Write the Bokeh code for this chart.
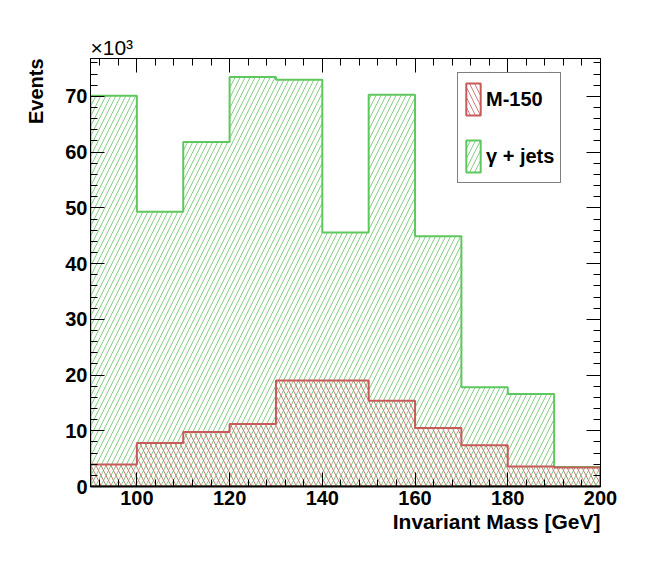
import numpy as np
from bokeh.plotting import figure
from bokeh.models import (Range1d, LinearAxis, SingleIntervalTicker, Legend,
                          LegendItem, CustomJSTickFormatter, Title)
from bokeh.embed import file_html
from bokeh.resources import INLINE

# ---- data (values in units of 10^3 events) ----
bin_edges = [90, 100, 110, 120, 130, 140, 150, 160, 170, 180, 190, 200]
gamma_jets = [70.1, 49.3, 61.8, 73.5, 73.0, 45.6, 70.3, 44.9, 17.8, 16.6, 3.5]
m150 = [3.95, 7.8, 9.8, 11.2, 19.0, 19.0, 15.4, 10.5, 7.4, 3.6, 3.4]
series_labels = ["M-150", "\u03b3 + jets"]

X_MIN, X_MAX = 90, 200
Y_MIN, Y_MAX = 0, 76.8

GREEN_LINE = "#5ec85e"
GREEN_HATCH = "#84cf84"
RED_LINE = "#c85a5a"
RED_HATCH = "#d07c7c"
FONT = "Liberation Sans"

p = figure(width=646, height=572, output_backend="svg", toolbar_location=None,
           x_range=Range1d(X_MIN, X_MAX), y_range=Range1d(Y_MIN, Y_MAX),
           x_axis_location=None, y_axis_location=None,
           min_border_left=90, min_border_right=46, min_border_top=58, min_border_bottom=86)
p.background_fill_color = "white"
p.border_fill_color = "white"
p.outline_line_color = "black"
p.outline_line_width = 1
p.xgrid.visible = False
p.ygrid.visible = False


def outline(values):
    v = np.asarray(values, dtype=float)
    xs = np.repeat(np.array(bin_edges, dtype=float), 2)
    ys = np.concatenate([[0.0], np.repeat(v, 2), [0.0]])
    return xs, ys


gx, gy = outline(gamma_jets)
green = p.patch(gx, gy, fill_alpha=0, line_color=GREEN_LINE, line_width=2,
                hatch_pattern="/", hatch_color=GREEN_HATCH, hatch_scale=10, hatch_weight=1)

rx, ry = outline(m150)
red = p.patch(rx, ry, fill_alpha=0, line_color=RED_LINE, line_width=2,
              hatch_pattern="\\", hatch_color=RED_HATCH, hatch_scale=10, hatch_weight=1)


# axes (ROOT style: ticks inside on all four sides)
def style_axis(ax, labels=True, width=1):
    ax.major_tick_in = 14
    ax.major_tick_out = 0
    ax.minor_tick_in = 7
    ax.minor_tick_out = 0
    ax.axis_line_color = "black"
    ax.axis_line_width = width
    ax.major_tick_line_color = "black"
    ax.minor_tick_line_color = "black"
    ax.major_label_text_font = FONT
    ax.major_label_text_font_style = "bold"
    ax.major_label_text_font_size = "20px"
    ax.major_label_text_color = "black"
    if not labels:
        ax.formatter = CustomJSTickFormatter(code="return ''")


xb = LinearAxis(ticker=SingleIntervalTicker(interval=20, num_minor_ticks=5))
style_axis(xb, width=2)
xb.major_label_standoff = 4
p.add_layout(xb, "below")

xt = LinearAxis(ticker=SingleIntervalTicker(interval=20, num_minor_ticks=5))
style_axis(xt, labels=False)
p.add_layout(xt, "above")

yl = LinearAxis(ticker=SingleIntervalTicker(interval=10, num_minor_ticks=5))
style_axis(yl)
yl.major_label_standoff = 3
p.add_layout(yl, "left")

yr = LinearAxis(ticker=SingleIntervalTicker(interval=10, num_minor_ticks=5))
style_axis(yr, labels=False)
p.add_layout(yr, "right")

# axis titles and exponent
p.add_layout(Title(text="Invariant Mass [GeV]", align="right", text_font=FONT,
                   text_font_style="bold", text_font_size="21px", text_color="black",
                   standoff=0), "below")
p.add_layout(Title(text="Events", align="right", text_font=FONT,
                   text_font_style="bold", text_font_size="20px", text_color="black",
                   standoff=31), "left")
p.add_layout(Title(text="\u00d710\u00b3", align="left", text_font=FONT,
                   text_font_style="normal", text_font_size="21px", text_color="black",
                   standoff=0), "above")

legend = Legend(items=[LegendItem(label=series_labels[0], renderers=[red]),
                       LegendItem(label=series_labels[1], renderers=[green])],
                location=(367, 303), orientation="vertical",
                glyph_width=18, glyph_height=40, spacing=17, padding=6, margin=0,
                label_standoff=4, label_width=63,
                label_text_font=FONT, label_text_font_style="bold",
                label_text_font_size="20px", label_text_color="black",
                border_line_color="black", border_line_width=1,
                background_fill_color="white", background_fill_alpha=1)
p.add_layout(legend)

open("out.html", "w").write(file_html(p, INLINE))
